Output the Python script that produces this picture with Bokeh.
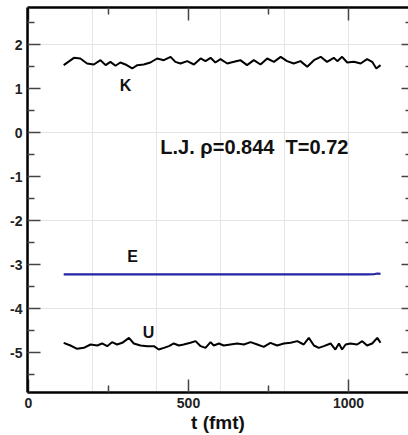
from bokeh.plotting import figure
from bokeh.models import LinearAxis, FixedTicker, Label, Range1d
from bokeh.embed import file_html
from bokeh.resources import INLINE

# ---- data ----
t_K = [110, 142, 162, 183, 204, 225, 241, 256, 272, 287, 303, 324, 340, 360, 381, 402, 423,
       444, 459, 475, 496, 517, 538, 553, 569, 584, 600, 621, 642, 662, 683, 704, 725, 746,
       767, 788, 808, 829, 850, 871, 892, 913, 933, 954, 965, 980, 996, 1017, 1038, 1058,
       1074, 1087, 1100]
K = [1.531, 1.697, 1.682, 1.569, 1.546, 1.644, 1.531, 1.606, 1.516, 1.591, 1.546, 1.455,
     1.531, 1.546, 1.591, 1.682, 1.644, 1.720, 1.606, 1.569, 1.622, 1.546, 1.682, 1.622,
     1.697, 1.591, 1.667, 1.569, 1.606, 1.644, 1.531, 1.644, 1.546, 1.682, 1.606, 1.720,
     1.622, 1.569, 1.622, 1.493, 1.644, 1.720, 1.606, 1.697, 1.622, 1.720, 1.591, 1.606,
     1.569, 1.667, 1.606, 1.455, 1.531]

t_U = [110, 131, 152, 173, 194, 215, 230, 246, 261, 277, 293, 314, 329, 350, 371, 392, 407,
       423, 439, 454, 470, 485, 506, 522, 538, 553, 569, 579, 595, 610, 631, 652, 673, 694,
       715, 735, 756, 777, 798, 819, 840, 860, 876, 892, 907, 923, 944, 959, 970, 980, 991,
       1006, 1027, 1043, 1058, 1074, 1090, 1100]
U = [-4.780, -4.841, -4.917, -4.894, -4.818, -4.841, -4.795, -4.856, -4.765, -4.818, -4.780,
     -4.667, -4.795, -4.841, -4.856, -4.856, -4.932, -4.894, -4.856, -4.795, -4.841, -4.818,
     -4.780, -4.742, -4.856, -4.894, -4.765, -4.841, -4.795, -4.841, -4.818, -4.795, -4.818,
     -4.765, -4.818, -4.871, -4.780, -4.841, -4.795, -4.780, -4.742, -4.818, -4.667, -4.841,
     -4.894, -4.856, -4.795, -4.932, -4.795, -4.932, -4.818, -4.795, -4.818, -4.742, -4.841,
     -4.795, -4.667, -4.780]

t_E = [110, 300, 500, 700, 900, 1060, 1080, 1090, 1100]
E = [-3.225, -3.225, -3.225, -3.225, -3.225, -3.225, -3.222, -3.205, -3.215]

x_major = [0, 500, 1000]
x_minor = [250, 750]
x_labels = ["0", "500", "1000"]
y_major = [-5, -4, -3, -2, -1, 0, 1, 2]
y_minor = [-5.5, -4.5, -3.5, -2.5, -1.5, -0.5, 0.5, 1.5, 2.5]
y_labels = ["-5", "-4", "-3", "-2", "-1", "0", "1", "2"]

FONT = "Liberation Sans"

p = figure(width=408, height=435, output_backend="svg", toolbar_location=None,
           x_range=Range1d(-3.1, 1187.5), y_range=Range1d(-5.909, 2.841),
           x_axis_location=None, y_axis_location=None,
           min_border_left=27, min_border_top=7, min_border_right=0, min_border_bottom=42)
p.outline_line_color = None
p.background_fill_color = "white"
p.border_fill_color = "white"

def style_axis(ax, tin, minin, show_labels, line=True):
    ax.major_tick_in = tin
    ax.major_tick_out = 0
    ax.minor_tick_in = minin
    ax.minor_tick_out = 0
    ax.major_tick_line_color = "#444444"
    ax.major_tick_line_width = 1.5
    ax.minor_tick_line_color = "#444444"
    ax.minor_tick_line_width = 1.5
    if line:
        ax.axis_line_color = "black"
        ax.axis_line_width = 2.5
    else:
        ax.axis_line_color = None
    ax.major_label_text_font = FONT
    ax.major_label_text_font_style = "bold"
    if show_labels:
        ax.major_label_text_color = "#222222"
        ax.major_label_text_font_size = "14px"
        ax.major_label_standoff = 5
    else:
        ax.major_label_text_color = None
        ax.major_label_text_font_size = "1px"
        ax.major_label_standoff = 0

left = LinearAxis(ticker=FixedTicker(ticks=y_major, minor_ticks=y_minor),
                  major_label_overrides={v: s for v, s in zip(y_major, y_labels)})
style_axis(left, 13, 7, True)
p.add_layout(left, "left")

bottom = LinearAxis(ticker=FixedTicker(ticks=x_major, minor_ticks=x_minor),
                    major_label_overrides={v: s for v, s in zip(x_major, x_labels)},
                    axis_label="t (fmt)")
style_axis(bottom, 13, 7, True)
bottom.axis_label_text_font = FONT
bottom.axis_label_text_font_style = "bold"
bottom.axis_label_text_font_size = "19px"
bottom.axis_label_text_color = "#111111"
bottom.axis_label_standoff = 1
p.add_layout(bottom, "below")

top = LinearAxis(ticker=FixedTicker(ticks=x_major, minor_ticks=x_minor))
style_axis(top, 13, 7, False)
p.add_layout(top, "above")

right = LinearAxis(ticker=FixedTicker(ticks=y_major, minor_ticks=y_minor))
style_axis(right, 7, 3, False, line=False)
p.add_layout(right, "right")

p.line(t_K, K, line_color="black", line_width=2)
p.line(t_U, U, line_color="black", line_width=2)
p.line(t_E, E, line_color="#2424a4", line_width=2.2)

def lab(x, y, text, size, align="center"):
    p.add_layout(Label(x=x, y=y, text=text, text_align=align, text_baseline="middle",
                       text_font=FONT, text_font_style="bold", text_font_size=size,
                       text_color="#111111"))

lab(303, 1.07, "K", "16px")
lab(325, -2.82, "E", "16px")
lab(375, -4.545, "U", "16px")
lab(412, -0.34, "L.J. \u03c1=0.844\u00a0\u00a0T=0.72", "20px", align="left")

open("out.html", "w").write(file_html(p, INLINE))
